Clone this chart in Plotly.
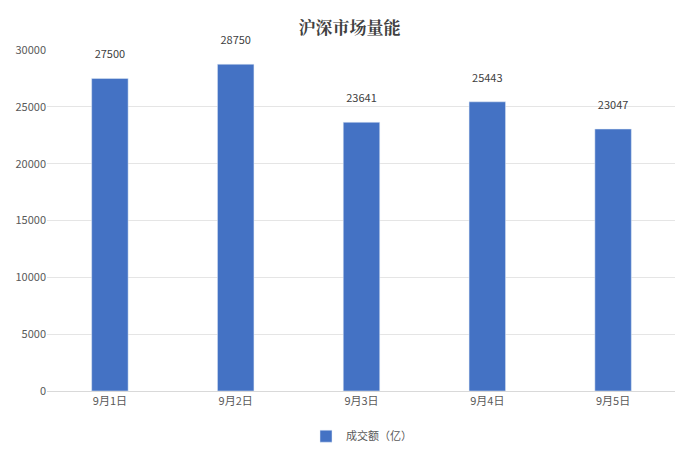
import plotly.graph_objects as go

dates = ["9月1日", "9月2日", "9月3日", "9月4日", "9月5日"]
volume = [27500, 28750, 23641, 25443, 23047]

fig = go.Figure()
fig.add_trace(go.Bar(
    x=dates, y=volume, name="成交额（亿）",
    marker_color="#4472C4",
    text=[f"{v}<br> " for v in volume], textposition="outside",
    textfont=dict(size=11, color="#404040"),
    cliponaxis=False,
))

fig.update_layout(
    width=683, height=455,
    paper_bgcolor="white", plot_bgcolor="white",
    title=dict(text="<b>沪深市场量能</b>", x=0.5, y=0.955, xanchor="center", yanchor="middle",
               font=dict(size=17, color="#404040", family="Noto Serif CJK SC, Noto Sans CJK SC")),
    font=dict(family="Noto Sans CJK SC", size=11, color="#595959"),
    margin=dict(l=39, r=15, t=42, b=58),
    bargap=0.71,
    showlegend=True,
    legend=dict(orientation="h", x=0.5, xanchor="center", y=-0.09, yanchor="top",
                font=dict(size=11, color="#595959")),
    xaxis=dict(showline=True, linecolor="#D9D9D9", ticks="", tickfont=dict(size=11)),
    yaxis=dict(range=[0, 30000], dtick=5000, tickformat="d", showgrid=True, gridcolor="#E5E5E5",
               zeroline=False, showline=False, tickfont=dict(size=11), automargin=False),
)

fig.write_html("out.html")
